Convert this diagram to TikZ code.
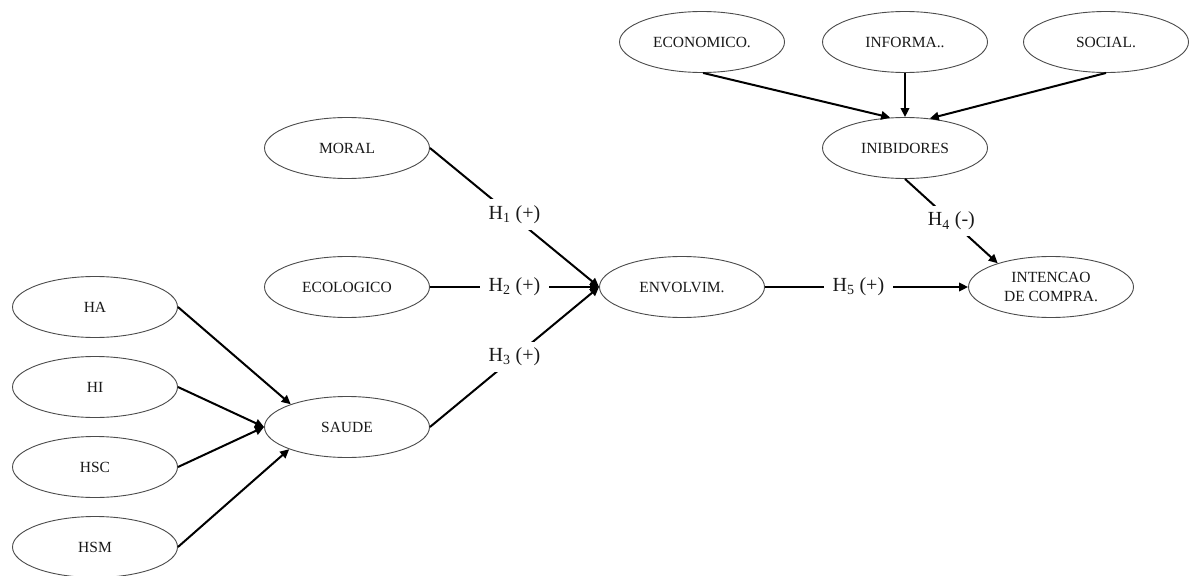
\documentclass[tikz,border=0pt]{standalone}
\usepackage{fontspec}
\setmainfont{Liberation Serif}
\usetikzlibrary{shapes.geometric,arrows.meta}
\begin{document}
\begin{tikzpicture}[x=1pt,y=-1pt,
  cons/.style={ellipse,draw=black!70,line width=0.9pt,minimum width=165pt,minimum height=61pt,inner sep=0pt,
    font=\fontsize{15.5}{19}\selectfont,text=black!90,align=center},
  conn/.style={draw=black,line width=2pt,-{Triangle[length=9pt,width=8.5pt]}},
  hyp/.style={fill=white,inner xsep=9pt,inner ysep=6pt,font=\fontsize{20}{24}\selectfont,text=black!90}]
\useasboundingbox (0,0) rectangle (1190,575);
\fill[white] (0,0) rectangle (1190,575);
% nodes
\node[cons] (econ) at (702,42) {ECONOMICO.};
\node[cons] (info) at (905,42) {INFORMA..};
\node[cons] (soc) at (1106,42) {SOCIAL.};
\node[cons] (inib) at (905,148) {INIBIDORES};
\node[cons] (moral) at (347,148) {MORAL};
\node[cons] (eco) at (347,287) {ECOLOGICO};
\node[cons] (env) at (682,287) {ENVOLVIM.};
\node[cons] (int) at (1051,287) {INTENCAO\\DE COMPRA.};
\node[cons] (ha) at (95,307) {HA};
\node[cons] (hi) at (95,387) {HI};
\node[cons] (hsc) at (95,467) {HSC};
\node[cons] (hsm) at (95,547) {HSM};
\node[cons] (saude) at (347,427) {SAUDE};
% connectors
\draw[conn] (econ.-88) -- (inib.116);
\draw[conn] (info.south) -- (inib.north);
\draw[conn] (soc.south) -- (inib.50);
\draw[conn] (ha.east) -- (saude.158);
\draw[conn] (hi.east) -- (saude.west);
\draw[conn] (hsc.east) -- (saude.west);
\draw[conn] (hsm.east) -- (saude.201);
\draw[conn] (moral.east) -- node[hyp,pos=0.5,yshift=3pt] (h1) {H\textsubscript{1} (+)} (env.west);
\draw[conn] (eco.east) -- node[hyp,pos=0.5] (h2) {H\textsubscript{2} (+)} (env.west);
\draw[conn] (saude.east) -- node[hyp,pos=0.5] (h3) {H\textsubscript{3} (+)} (env.west);
\draw[conn] (env.east) -- node[hyp,pos=0.46] (h5) {H\textsubscript{5} (+)} (int.west);
\draw[conn] (inib.south) -- node[hyp,pos=0.5] (h4) {H\textsubscript{4} (-)} (int.156);
\end{tikzpicture}
\end{document}
